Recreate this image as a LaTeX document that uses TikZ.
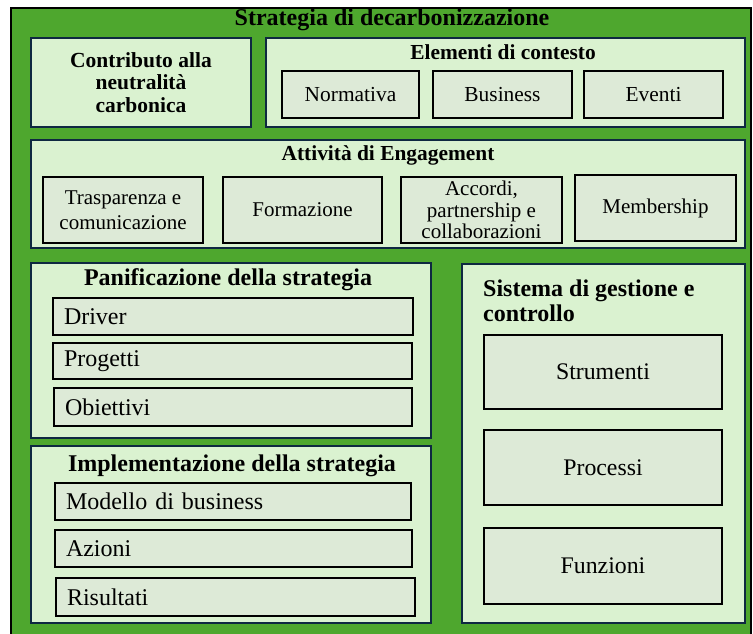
\documentclass[tikz,border=0pt]{standalone}
\usepackage{fontspec}
\setmainfont{Liberation Serif}
\definecolor{outergreen}{HTML}{4EA72E}
\definecolor{contfill}{HTML}{DAF2D0}
\definecolor{itemfill}{HTML}{DDEAD7}
\definecolor{navy}{HTML}{0E2841}
\begin{document}
\begin{tikzpicture}[x=1pt,y=-1pt,
  outerbox/.style={draw=black,line width=1.6pt,fill=outergreen,rectangle,inner sep=0pt},
  contbox/.style={draw=navy,line width=1.3pt,fill=contfill,rectangle,inner sep=0pt},
  itembox/.style={draw=black,line width=1.8pt,fill=itemfill,rectangle,inner sep=0pt,font=\fontsize{21.4}{25}\selectfont,align=center},
  bigitem/.style={itembox,font=\fontsize{23.8}{27}\selectfont},
  engitem/.style={itembox,font=\fontsize{21}{25}\selectfont},
  leftitem/.style={itembox,font=\fontsize{24}{27}\selectfont,align=left,inner xsep=10pt},
  ttl/.style={font=\bfseries\fontsize{21.4}{25}\selectfont,inner sep=0pt,align=center},
  bigttl/.style={font=\bfseries\fontsize{24}{27}\selectfont,inner sep=0pt,align=center}
]
\useasboundingbox (0,0) rectangle (753,634);
\begin{scope}
\clip (0,0) rectangle (753,634);
\node[outerbox,minimum width=740pt,minimum height=640pt] (outer) at (381,328) {};
\end{scope}
\node[bigttl] (t0) at (392,20) {Strategia di decarbonizzazione};

% Row 1
\node[contbox,minimum width=220pt,minimum height=89pt,font=\bfseries\fontsize{21.5}{22.5}\selectfont,align=center] (contrib) at (141,82.5) {Contributo alla\\neutralità\\carbonica};
\node[contbox,minimum width=479pt,minimum height=89pt] (elem) at (505.5,82.5) {};
\node[ttl] (elemt) at (503,52) {Elementi di contesto};
\node[itembox,minimum width=137pt,minimum height=47pt] (norm) at (350.5,94.5) {Normativa};
\node[itembox,minimum width=139pt,minimum height=47pt] (bus) at (502.5,94.5) {Business};
\node[itembox,minimum width=139pt,minimum height=47pt] (even) at (653.5,94.5) {Eventi};

% Row 2
\node[contbox,minimum width=714pt,minimum height=108pt] (att) at (388,194) {};
\node[ttl] (attt) at (388,155) {Attività di Engagement};
\node[engitem,minimum width=160pt,minimum height=66pt] (tras) at (123,210) {Trasparenza e\\comunicazione};
\node[engitem,minimum width=159pt,minimum height=66pt] (form) at (302.5,210) {Formazione};
\node[engitem,minimum width=161pt,minimum height=66pt,font=\fontsize{21}{21.5}\selectfont] (acc) at (481.5,210) {Accordi,\\partnership e\\collaborazioni};
\node[engitem,minimum width=161pt,minimum height=66pt] (memb) at (655.5,208) {Membership};

% Panificazione
\node[contbox,minimum width=400pt,minimum height=175pt] (pan) at (231,350.5) {};
\node[bigttl] (pant) at (228,280) {Panificazione della strategia};
\node[leftitem,minimum width=360pt,minimum height=37pt,text width=338pt] (driver) at (233,316.5) {Driver};
\node[leftitem,minimum width=359pt,minimum height=36pt,text width=337pt] (prog) at (232.5,361) {Progetti};
\node[leftitem,minimum width=358pt,minimum height=38pt,text width=336pt] (obie) at (233,407) {Obiettivi};

% Implementazione
\node[contbox,minimum width=400pt,minimum height=177pt] (impl) at (231,534.5) {};
\node[bigttl] (implt) at (232,466) {Implementazione della strategia};
\node[leftitem,minimum width=356pt,minimum height=37pt,text width=334pt] (mod) at (233,501.5) {Modello di business};
\node[leftitem,minimum width=357pt,minimum height=37pt,text width=335pt] (az) at (233.5,548.5) {Azioni};
\node[leftitem,minimum width=359pt,minimum height=38pt,text width=337pt] (ris) at (235.5,597) {Risultati};

% Sistema
\node[contbox,minimum width=283pt,minimum height=359pt] (sis) at (603.5,443.5) {};
\node[font=\bfseries\fontsize{24}{25}\selectfont,inner sep=0pt,align=left,anchor=west] (sist) at (483,301) {Sistema di gestione e\\controllo};
\node[bigitem,minimum width=238pt,minimum height=74pt] (strum) at (603,372) {Strumenti};
\node[bigitem,minimum width=238pt,minimum height=75pt] (proc) at (603,467.5) {Processi};
\node[bigitem,minimum width=238pt,minimum height=76pt] (funz) at (603,566) {Funzioni};
\end{tikzpicture}
\end{document}
